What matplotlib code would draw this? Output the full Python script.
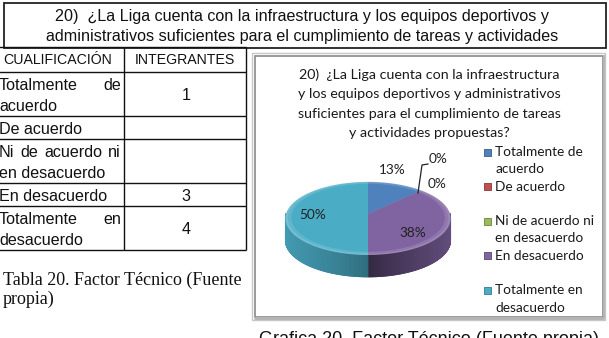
import numpy as np
import matplotlib
matplotlib.use("Agg")
import matplotlib.pyplot as plt
from matplotlib.patches import Rectangle, Polygon
from matplotlib.collections import PolyCollection
import matplotlib.colors as mcolors

# ---------------- data ----------------
question_box = ["20)  \u00bfLa Liga cuenta con la infraestructura y los equipos deportivos y",
                "administrativos suficientes para el cumplimiento de tareas y actividades"]
table_header = ["CUALIFICACI\u00d3N", "INTEGRANTES"]
table_rows = [["Totalmente de", "acuerdo"],
              ["De acuerdo"],
              ["Ni de acuerdo ni", "en desacuerdo"],
              ["En desacuerdo"],
              ["Totalmente en", "desacuerdo"]]
integrantes = [1, None, None, 3, 4]
legend_labels = [["Totalmente de", "acuerdo"], ["De acuerdo"],
                 ["Ni de acuerdo ni", "en desacuerdo"], ["En desacuerdo"],
                 ["Totalmente en", "desacuerdo"]]
chart_title = ["20)  \u00bfLa Liga cuenta con la infraestructura",
               "y los equipos deportivos y administrativos",
               "suficientes para el cumplimiento de tareas",
               "y actividades propuestas?"]
table_caption = ["Tabla 20. Factor T\u00e9cnico (Fuente", "propia)"]
chart_caption = "Grafica 20. Factor T\u00e9cnico (Fuente propia)"
pie_values = [0 if v is None else v for v in integrantes]
colors = ["#4f81bd", "#c0504d", "#9bbb59", "#8064a2", "#4bacc6"]

# ---------------- figure ----------------
W, H = 609, 338
fig = plt.figure(figsize=(W / 100, H / 100), dpi=100)
ax = fig.add_axes([0, 0, 1, 1])
ax.set_xlim(0, W)
ax.set_ylim(H, 0)
ax.axis("off")
renderer = fig.canvas.get_renderer()

SANS = ["Liberation Sans", "DejaVu Sans"]
SERIF = ["Liberation Serif", "DejaVu Serif"]
CAL = ["Lato", "DejaVu Sans"]

# top question box
ax.add_patch(Rectangle((4, 3), 602, 45, fill=False, ec="#222222", lw=1.3))
for i, line in enumerate(question_box):
    ax.text(302, 16 + 21 * i, line, ha="center", va="center", fontsize=11.6,
            family=SANS, color="#111111")

# ---------------- table ----------------
col_x = [-2, 124, 246]
top = 47
hdr_h = 25
edges = [top, top + hdr_h]
for r in table_rows:
    edges.append(edges[-1] + 21 * len(r) + 2)

def hline(y, x0, x1, lw=1.0, c="#111111"):
    ax.plot([x0, x1], [y, y], color=c, lw=lw, solid_capstyle="butt")

def vline(x, y0, y1, lw=1.0, c="#111111"):
    ax.plot([x, x], [y0, y1], color=c, lw=lw, solid_capstyle="butt")

for y in edges:
    hline(y, col_x[0], col_x[2])
for x in col_x:
    vline(x, edges[0], edges[-1])

ax.text(58, (edges[0] + edges[1]) / 2 + 1, table_header[0], ha="center", va="center",
        fontsize=10.2, family=SANS, color="#111111")
ax.text(185, (edges[0] + edges[1]) / 2 + 1, table_header[1], ha="center", va="center",
        fontsize=10.2, family=SANS, color="#111111")

FS_T = 11.6

def justified(words, x0, x1, y):
    ts = [ax.text(0, y, w, ha="left", va="center", fontsize=FS_T, family=SANS,
                  color="#111111") for w in words]
    ws = [t.get_window_extent(renderer).width for t in ts]
    if len(words) == 1:
        ts[0].set_x(x0)
        return
    gap = (x1 - x0 - sum(ws)) / (len(words) - 1)
    x = x0
    for t, w in zip(ts, ws):
        t.set_x(x)
        x += w + gap

for i, lines in enumerate(table_rows):
    y0, y1 = edges[i + 1], edges[i + 2]
    yc = (y0 + y1) / 2 + 2
    n = len(lines)
    for j, line in enumerate(lines):
        yy = yc + (j - (n - 1) / 2) * 21
        if j < n - 1:
            justified(line.split(), -1, 121, yy)
        else:
            ax.text(-1, yy, line, ha="left", va="center", fontsize=FS_T,
                    family=SANS, color="#111111")
    if integrantes[i] is not None:
        ax.text(186, yc, str(integrantes[i]), ha="center", va="center",
                fontsize=FS_T, family=SANS, color="#111111")

for i, line in enumerate(table_caption):
    ax.text(3, 280 + 19 * i, line, ha="left", va="center", fontsize=13,
            family=SERIF, color="#111111")

# ---------------- chart box ----------------
ax.add_patch(Rectangle((252, 53), 353, 267, fill=False, ec="#c8c8c8", lw=1.0))
ax.add_patch(Rectangle((254.5, 55.5), 348, 261, fc="white", ec="#8a8a8a", lw=1.2))
hline(318, 254, 604, lw=2.2, c="#b4b4b4")
vline(603.5, 55, 319, lw=1.6, c="#b4b4b4")

for i, line in enumerate(chart_title):
    ax.text(429, 75 + 19.3 * i, line, ha="center", va="center", fontsize=10.3,
            family=CAL, color="#1a1a1a")

# ---------------- 3D pie ----------------
cx, cy, a, b, p, depth = 368, 214, 82, 36, 0.12, 22

def proj(theta_deg, r=1.0, dz=0.0):
    t = np.radians(theta_deg)
    u, v = r * np.cos(t), -r * np.sin(t)
    f = 1.0 / (1.0 - p * v)
    return cx + a * u * f, cy + b * v * f + dz

def shade(c, s):
    rgb = np.array(mcolors.to_rgb(c))
    return tuple(np.clip(rgb * s, 0, 1))

def lighten(c, s):
    rgb = np.array(mcolors.to_rgb(c))
    return tuple(np.clip(rgb + (1 - rgb) * s, 0, 1))

total = float(sum(pie_values))
bounds = [90.0]
for v in pie_values:
    bounds.append(bounds[-1] - 360.0 * v / total)

# side (front half only, sin(theta) < 0)
side_polys, side_cols = [], []
for i, v in enumerate(pie_values):
    if v == 0:
        continue
    t0, t1 = bounds[i], bounds[i + 1]
    ts = np.linspace(t0, t1, max(3, int(abs(t0 - t1) * 2)))
    for ta, tb in zip(ts[:-1], ts[1:]):
        tm = 0.5 * (ta + tb)
        if np.sin(np.radians(tm)) >= 0.02:
            continue
        xa, ya = proj(ta)
        xb, yb = proj(tb)
        side_polys.append([(xa, ya), (xb, yb), (xb, yb + depth), (xa, ya + depth)])
        c = abs(np.cos(np.radians(tm)))
        if i == 4:
            s = 0.62 + 0.28 * c ** 0.7
        else:
            s = 0.40 + 0.38 * c ** 0.8
        side_cols.append(shade(colors[i], s))
ax.add_collection(PolyCollection(side_polys, facecolors=side_cols, edgecolors=side_cols,
                                 linewidths=0.6))

# top surface with light rim (bevel)
for i, v in enumerate(pie_values):
    if v == 0:
        continue
    t0, t1 = bounds[i], bounds[i + 1]
    ts = np.linspace(t0, t1, 200)
    for r, s in [(1.0, 0.22), (0.97, 0.12), (0.93, 0.0)]:
        pts = [(cx, cy)] + [proj(t, r) for t in ts]
        ax.add_patch(Polygon(pts, closed=True, fc=lighten(colors[i], s), ec="none"))

# data labels
pct = [int(100.0 * v / total + 0.5) for v in pie_values]
label_pos = [(392, 170), (438, 159), (437, 184), (413, 233), (313, 215)]
for k, (x, y) in enumerate(label_pos):
    ax.text(x, y, f"{pct[k]}%", ha="center", va="center", fontsize=9.8,
            family=CAL, color="#222222")
ax.plot([428, 422, 418], [164, 165, 193], color="#222222", lw=0.9)

# legend
for i, lines in enumerate(legend_labels):
    y = 152 + 34.6 * i
    ax.add_patch(Rectangle((484, y - 3.5), 7, 7, fc=colors[i], ec=shade(colors[i], 0.7), lw=0.6))
    for j, line in enumerate(lines):
        ax.text(495, y + 17.3 * j, line, ha="left", va="center", fontsize=9.8,
                family=CAL, color="#1a1a1a")

# bottom caption (cut off by the image edge, as in the reference)
ax.text(259, 331, chart_caption, ha="left", va="top", fontsize=13,
        family=SANS, color="#111111")

fig.savefig("out.png", dpi=100)
